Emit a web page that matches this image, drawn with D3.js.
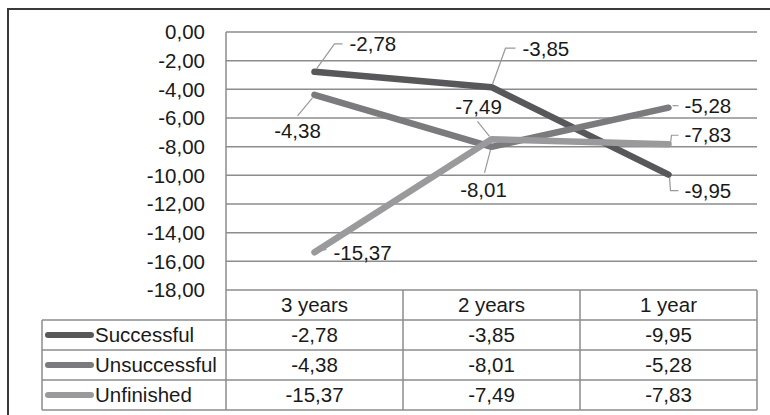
<!DOCTYPE html>
<meta charset="utf-8">
<style>
body { margin: 0; background: #fff; }
text { font-family: "Liberation Sans", Arial, sans-serif; fill: #1a1a1a; }
</style>
<body>
<script src="https://d3js.org/d3.v7.min.js"></script>
<script>

// data
const categories = ["3 years", "2 years", "1 year"];
const seriesNames = ["Successful", "Unsuccessful", "Unfinished"];
const successful = [-2.78, -3.85, -9.95];
const unsuccessful = [-4.38, -8.01, -5.28];
const unfinished = [-15.37, -7.49, -7.83];
const yTicks = [0, -2, -4, -6, -8, -10, -12, -14, -16, -18];

const seriesValues = [successful, unsuccessful, unfinished];
const colors = ["#58585a", "#7b7b7d", "#9a9a9c"];

// where each data label sits relative to its point (tx,ty = text, leg = leader points)
const labelPos = [
	[ {tx: 35, ty: -28, a: "start", leg: [[2,-3],[20,-28],[28,-28]]},
	  {tx: 31, ty: -38, a: "start", leg: [[1,-3],[14,-39],[24,-39]]},
	  {tx: 16, ty: 16, a: "start", leg: [[1,3],[2,16],[10,16]]} ],
	[ {tx: -17, ty: 36, a: "middle", leg: [[-2,3],[-17,21]]},
	  {tx: -8, ty: 43, a: "middle", leg: [[-1,3],[-7,26]]},
	  {tx: 16, ty: -2, a: "start", leg: [[4,-2],[10,-2]]} ],
	[ {tx: 19, ty: 1, a: "start", leg: [[2,-1],[12,-3]]},
	  {tx: -13, ty: -33, a: "middle", leg: [[-2,-3],[-14,-18]]},
	  {tx: 16, ty: -9, a: "start", leg: [[2,-1],[3,-9],[10,-9]]} ]
];

const width = 770, height = 415;
const plotLeft = 226, plotRight = 757, plotTop = 32, plotBottom = 290;
const rowH = 30, tableLeft = 42;
const gridColor = "#8c8c8c";
const fontSize = "20.5px";

const fmt = d3.formatLocale({decimal: ",", thousands: ".", grouping: [3], currency: ["", ""], minus: "-"}).format(".2f");

const svg = d3.select("body").append("svg")
	.attr("width", width)
	.attr("height", height);

// outer chart border (runs off the right and bottom)
svg.append("rect")
	.attr("x", 8).attr("y", 9)
	.attr("width", 800).attr("height", 450)
	.attr("fill", "none")
	.attr("stroke", "#3a3a3a")
	.attr("stroke-width", 2);

const x = d3.scaleBand().domain(categories).range([plotLeft, plotRight]);
const y = d3.scaleLinear().domain([0, -18]).range([plotTop, plotBottom]);
const cx = c => x(c) + x.bandwidth() / 2;

// gridlines
svg.append("g").selectAll("line")
	.data(yTicks)
	.join("line")
	.attr("x1", plotLeft).attr("x2", plotRight)
	.attr("y1", d => y(d)).attr("y2", d => y(d))
	.attr("stroke", gridColor)
	.attr("stroke-width", 1.5);

// y tick labels
svg.append("g").selectAll("text")
	.data(yTicks)
	.join("text")
	.attr("x", 205)
	.attr("y", d => y(d))
	.attr("dy", "0.35em")
	.attr("text-anchor", "end")
	.style("font-size", fontSize)
	.text(d => fmt(d));

// table grid
const tableBottom = plotBottom + rowH * 4;
const grid = svg.append("g").attr("stroke", gridColor).attr("stroke-width", 1.5);
grid.append("line").attr("x1", plotLeft).attr("x2", plotLeft).attr("y1", plotTop).attr("y2", tableBottom);
categories.forEach(c => {
	grid.append("line")
		.attr("x1", x(c) + x.bandwidth()).attr("x2", x(c) + x.bandwidth())
		.attr("y1", plotBottom).attr("y2", tableBottom);
});
grid.append("line").attr("x1", tableLeft).attr("x2", tableLeft).attr("y1", plotBottom + rowH).attr("y2", tableBottom);
d3.range(1, 5).forEach(i => {
	grid.append("line")
		.attr("x1", tableLeft).attr("x2", plotRight)
		.attr("y1", plotBottom + rowH * i).attr("y2", plotBottom + rowH * i);
});

// category header
svg.append("g").selectAll("text")
	.data(categories)
	.join("text")
	.attr("x", d => cx(d))
	.attr("y", plotBottom + rowH / 2)
	.attr("dy", "0.35em")
	.attr("text-anchor", "middle")
	.style("font-size", fontSize)
	.text(d => d);

// lines
const line = d3.line()
	.x((d, i) => cx(categories[i]))
	.y(d => y(d));

seriesValues.forEach((vals, s) => {
	svg.append("path")
		.datum(vals)
		.attr("d", line)
		.attr("fill", "none")
		.attr("stroke", colors[s])
		.attr("stroke-width", 6.5)
		.attr("stroke-linecap", "round")
		.attr("stroke-linejoin", "round");
});

// data labels with leader lines
seriesValues.forEach((vals, s) => {
	vals.forEach((v, i) => {
		const px = cx(categories[i]), py = y(v);
		const lp = labelPos[s][i];
		svg.append("polyline")
			.attr("points", lp.leg.map(p => (px + p[0]) + "," + (py + p[1])).join(" "))
			.attr("fill", "none")
			.attr("stroke", "#999")
			.attr("stroke-width", 1.2);
		svg.append("text")
			.attr("x", px + lp.tx)
			.attr("y", py + lp.ty)
			.attr("dy", "0.35em")
			.attr("text-anchor", lp.a)
			.style("font-size", fontSize)
			.text(fmt(v));
	});
});

// table rows: legend key, name, values
seriesNames.forEach((name, s) => {
	const ry = plotBottom + rowH * (s + 1) + rowH / 2;
	svg.append("line")
		.attr("x1", 48).attr("x2", 91)
		.attr("y1", ry).attr("y2", ry)
		.attr("stroke", colors[s])
		.attr("stroke-width", 6)
		.attr("stroke-linecap", "round");
	svg.append("text")
		.attr("x", 95).attr("y", ry)
		.attr("dy", "0.35em")
		.style("font-size", fontSize)
		.text(name);
	seriesValues[s].forEach((v, i) => {
		svg.append("text")
			.attr("x", cx(categories[i]))
			.attr("y", ry)
			.attr("dy", "0.35em")
			.attr("text-anchor", "middle")
			.style("font-size", fontSize)
			.text(fmt(v));
	});
});

</script>
</body>
